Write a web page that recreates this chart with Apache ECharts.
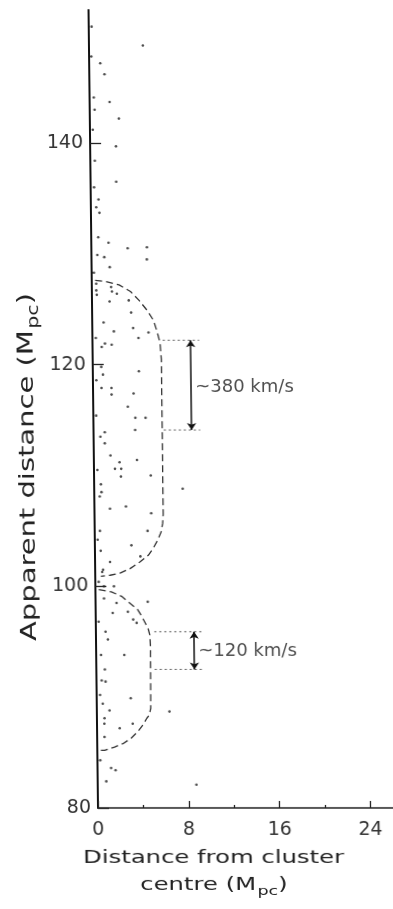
<!DOCTYPE html>
<html>
<head>
<meta charset="utf-8">
<script src="https://cdn.jsdelivr.net/npm/echarts@6/dist/echarts.min.js"></script>
<style>
  html, body { margin: 0; padding: 0; background: #ffffff; }
  /* the plate is very slightly sheared, so the distance axis leans a little */
  #chart { width: 393px; height: 909px; transform: skewX(0.68deg); transform-origin: 0 808px; }
</style>
</head>
<body>
<div id="chart"></div>
<script>
// Tick marks and labels
const yTicks = [80, 100, 120, 140];
const xTicks = [0, 8, 16, 24];
const xMinorTicks = [4, 12, 20];

// Galaxies: [distance from cluster centre (Mpc), apparent distance (Mpc)]
const galaxies = [
  [4.75, 148.8], [0.98, 147.2], [1.34, 146.2], [0.37, 144.1], [1.76, 143.7], [0.43, 143.0],
  [2.56, 142.2], [2.28, 139.7], [0.40, 138.4], [2.26, 136.5], [0.68, 134.9], [0.47, 134.2],
  [0.75, 133.7], [0.62, 131.5], [1.52, 131.0], [3.20, 130.5], [4.90, 130.6], [0.52, 129.9],
  [1.13, 129.7], [4.88, 129.5], [1.60, 128.8], [1.77, 126.6], [2.20, 126.4], [0.43, 126.3],
  [0.39, 127.3], [0.39, 126.7], [1.70, 127.0], [1.55, 125.7], [3.24, 125.8], [3.44, 124.7],
  [1.00, 123.8], [3.60, 123.3], [1.90, 123.0], [4.95, 122.9], [4.06, 122.4], [1.10, 121.9],
  [1.69, 121.8], [0.81, 121.6], [0.30, 122.4], [0.75, 119.8], [0.89, 119.1], [4.06, 119.4],
  [0.75, 117.9], [1.63, 117.9], [3.57, 117.4], [1.63, 117.3], [3.05, 116.2], [3.70, 115.2],
  [4.60, 115.2], [3.67, 114.1], [0.99, 113.9], [0.60, 113.5], [0.98, 112.9], [1.47, 111.8],
  [2.26, 111.2], [2.40, 110.6], [1.85, 110.6], [3.80, 111.4], [2.37, 109.9], [5.00, 110.0],
  [0.60, 109.2], [0.48, 108.1], [1.37, 107.0], [2.78, 107.2], [5.00, 106.6], [0.46, 105.0],
  [4.66, 105.0], [3.22, 103.7], [0.51, 103.2], [4.00, 102.7], [1.32, 102.2], [0.70, 101.5],
  [0.64, 108.5], [7.80, 108.8], [0.62, 101.3], [0.76, 100.0], [1.64, 100.0], [0.75, 98.9],
  [1.85, 98.5], [4.60, 98.6], [1.50, 97.6], [2.84, 97.7], [3.30, 97.0], [3.60, 96.7],
  [0.85, 95.9], [1.05, 95.2], [0.43, 93.8], [2.48, 93.8], [0.75, 92.5], [0.46, 91.5],
  [0.80, 91.4], [0.53, 89.4], [1.12, 88.8], [3.00, 89.9], [0.67, 88.1], [0.65, 87.6],
  [2.00, 87.2], [3.15, 87.6], [0.65, 86.4], [1.20, 83.6], [1.59, 83.4], [0.76, 82.4],
  [6.40, 88.7], [8.70, 82.1],
  [0.25, 150.5], [0.20, 147.8], [0.25, 141.2], [0.30, 136.0], [0.20, 128.3], [0.30, 118.6],
  [0.25, 115.4], [0.30, 110.5], [0.25, 104.2], [0.30, 100.4], [0.25, 96.8], [0.30, 90.2],
  [0.25, 84.3]
];

// Outline of the richer (upper) group
const upperBoundary = [
  [0.3, 127.6], [1.2, 127.5], [2.4, 127.2], [3.4, 126.6], [4.15, 125.8], [4.85, 124.9],
  [5.4, 124.0], [5.7, 123.0], [5.95, 122.0], [6.05, 120.5], [6.05, 106.5], [6.0, 105.7],
  [5.85, 104.9], [5.56, 104.2], [5.12, 103.4], [4.7, 102.8], [3.95, 102.2], [3.08, 101.6],
  [2.2, 101.2], [1.32, 101.0], [0.5, 100.9]
];

// Outline of the poorer (lower) group
const lowerBoundary = [
  [0.3, 99.7], [1.4, 99.5], [2.3, 99.1], [3.0, 98.5], [3.7, 97.9], [4.0, 97.4],
  [4.3, 96.8], [4.6, 96.2], [4.75, 95.6], [4.8, 94.5], [4.75, 89.0], [4.63, 88.4],
  [4.4, 88.1], [4.05, 87.5], [3.6, 86.9], [3.0, 86.3], [2.27, 85.8], [1.53, 85.5],
  [0.65, 85.2], [0.2, 85.2]
];

// Velocity-dispersion brackets
const dispersionLabels = ['~380 km/s', '~120 km/s'];
const bracketTop = [122.2, 95.9];
const bracketBottom = [114.1, 92.5];
const bracketStart = [6.2, 5.15];
const bracketEnd = [9.4, 9.55];
const arrowX = [8.65, 8.65];
const labelY = [118.0, 94.1];

const FONT = 'DejaVu Sans';
const INK = '#222';

const outlineStyle = { color: '#333', width: 1.3, type: [7, 4] };

const bracketSeries = [];
bracketTop.forEach((top, i) => {
  [top, bracketBottom[i]].forEach(level => {
    bracketSeries.push({
      type: 'line',
      data: [[bracketStart[i], level], [bracketEnd[i], level]],
      showSymbol: false,
      silent: true,
      lineStyle: { color: '#555', width: 1, type: [2, 3] },
      z: 2
    });
  });
});

const chart = echarts.init(document.getElementById('chart'), null, { renderer: 'canvas' });

chart.setOption({
  backgroundColor: '#ffffff',
  animation: false,
  grid: { left: 98, top: 10, width: 295, height: 798, outerBoundsMode: 'none' },
  xAxis: [
    {
      type: 'value', min: 0, max: 26, position: 'bottom',
      axisLine: { show: true, onZero: false, lineStyle: { color: INK, width: 1.5 } },
      axisTick: { show: true, inside: true, length: 7, customValues: xTicks, lineStyle: { color: INK, width: 1.3 } },
      axisLabel: { customValues: xTicks, fontSize: 19, fontFamily: FONT, color: '#333', margin: 13 },
      splitLine: { show: false }
    },
    {
      type: 'value', min: 0, max: 26, position: 'bottom',
      axisLine: { show: false },
      axisTick: { show: true, inside: true, length: 3, customValues: xMinorTicks, lineStyle: { color: INK, width: 1.3 } },
      axisLabel: { show: false },
      splitLine: { show: false }
    }
  ],
  yAxis: {
    type: 'value', min: 80, max: 152,
    axisLine: { show: true, onZero: false, lineStyle: { color: '#111', width: 2 } },
    axisTick: { show: true, inside: true, length: 11, customValues: yTicks, lineStyle: { color: INK, width: 1.3 } },
    axisLabel: { customValues: yTicks, fontSize: 19, fontFamily: FONT, color: '#333', margin: 7 },
    splitLine: { show: false }
  },
  series: [
    {
      type: 'scatter',
      data: galaxies,
      symbolSize: 2.6,
      itemStyle: { color: INK },
      silent: true,
      z: 3
    },
    {
      type: 'line', data: upperBoundary, showSymbol: false, silent: true,
      lineStyle: outlineStyle, z: 2
    },
    {
      type: 'line', data: lowerBoundary, showSymbol: false, silent: true,
      lineStyle: outlineStyle, z: 2
    },
    ...bracketSeries,
    {
      type: 'lines',
      coordinateSystem: 'cartesian2d',
      data: arrowX.map((x, i) => ({ coords: [[x, bracketTop[i]], [x, bracketBottom[i]]] })),
      symbol: ['arrow', 'arrow'],
      symbolSize: 7,
      lineStyle: { color: '#111', width: 1.5, opacity: 1 },
      silent: true,
      z: 4
    },
    {
      type: 'scatter',
      data: arrowX.map((x, i) => [x, labelY[i]]),
      symbolSize: 0.1,
      itemStyle: { color: 'rgba(0,0,0,0)' },
      silent: true,
      label: {
        show: true,
        position: 'right',
        distance: 4,
        formatter: p => dispersionLabels[p.dataIndex],
        fontSize: 18,
        fontFamily: FONT,
        color: INK
      },
      z: 5
    }
  ],
  graphic: [
    {
      type: 'text',
      x: 33, y: 467,
      rotation: Math.PI / 2,
      scaleX: 1.38,
      silent: true,
      style: {
        text: 'Apparent distance (M{s|pc})',
        fontSize: 21, fontFamily: FONT, fill: INK,
        align: 'center', verticalAlign: 'middle',
        rich: { s: { fontSize: 15, fontFamily: FONT, fill: INK, padding: [14, 0, 0, 1] } }
      }
    },
    {
      type: 'text',
      x: 213, y: 872,
      scaleX: 1.35,
      silent: true,
      style: {
        text: 'Distance from cluster\ncentre (M{s|pc})',
        fontSize: 18, fontFamily: FONT, fill: INK, lineHeight: 27,
        align: 'center', verticalAlign: 'middle',
        rich: { s: { fontSize: 13, fontFamily: FONT, fill: INK, padding: [12, 0, 0, 1] } }
      }
    }
  ]
});
</script>
</body>
</html>
